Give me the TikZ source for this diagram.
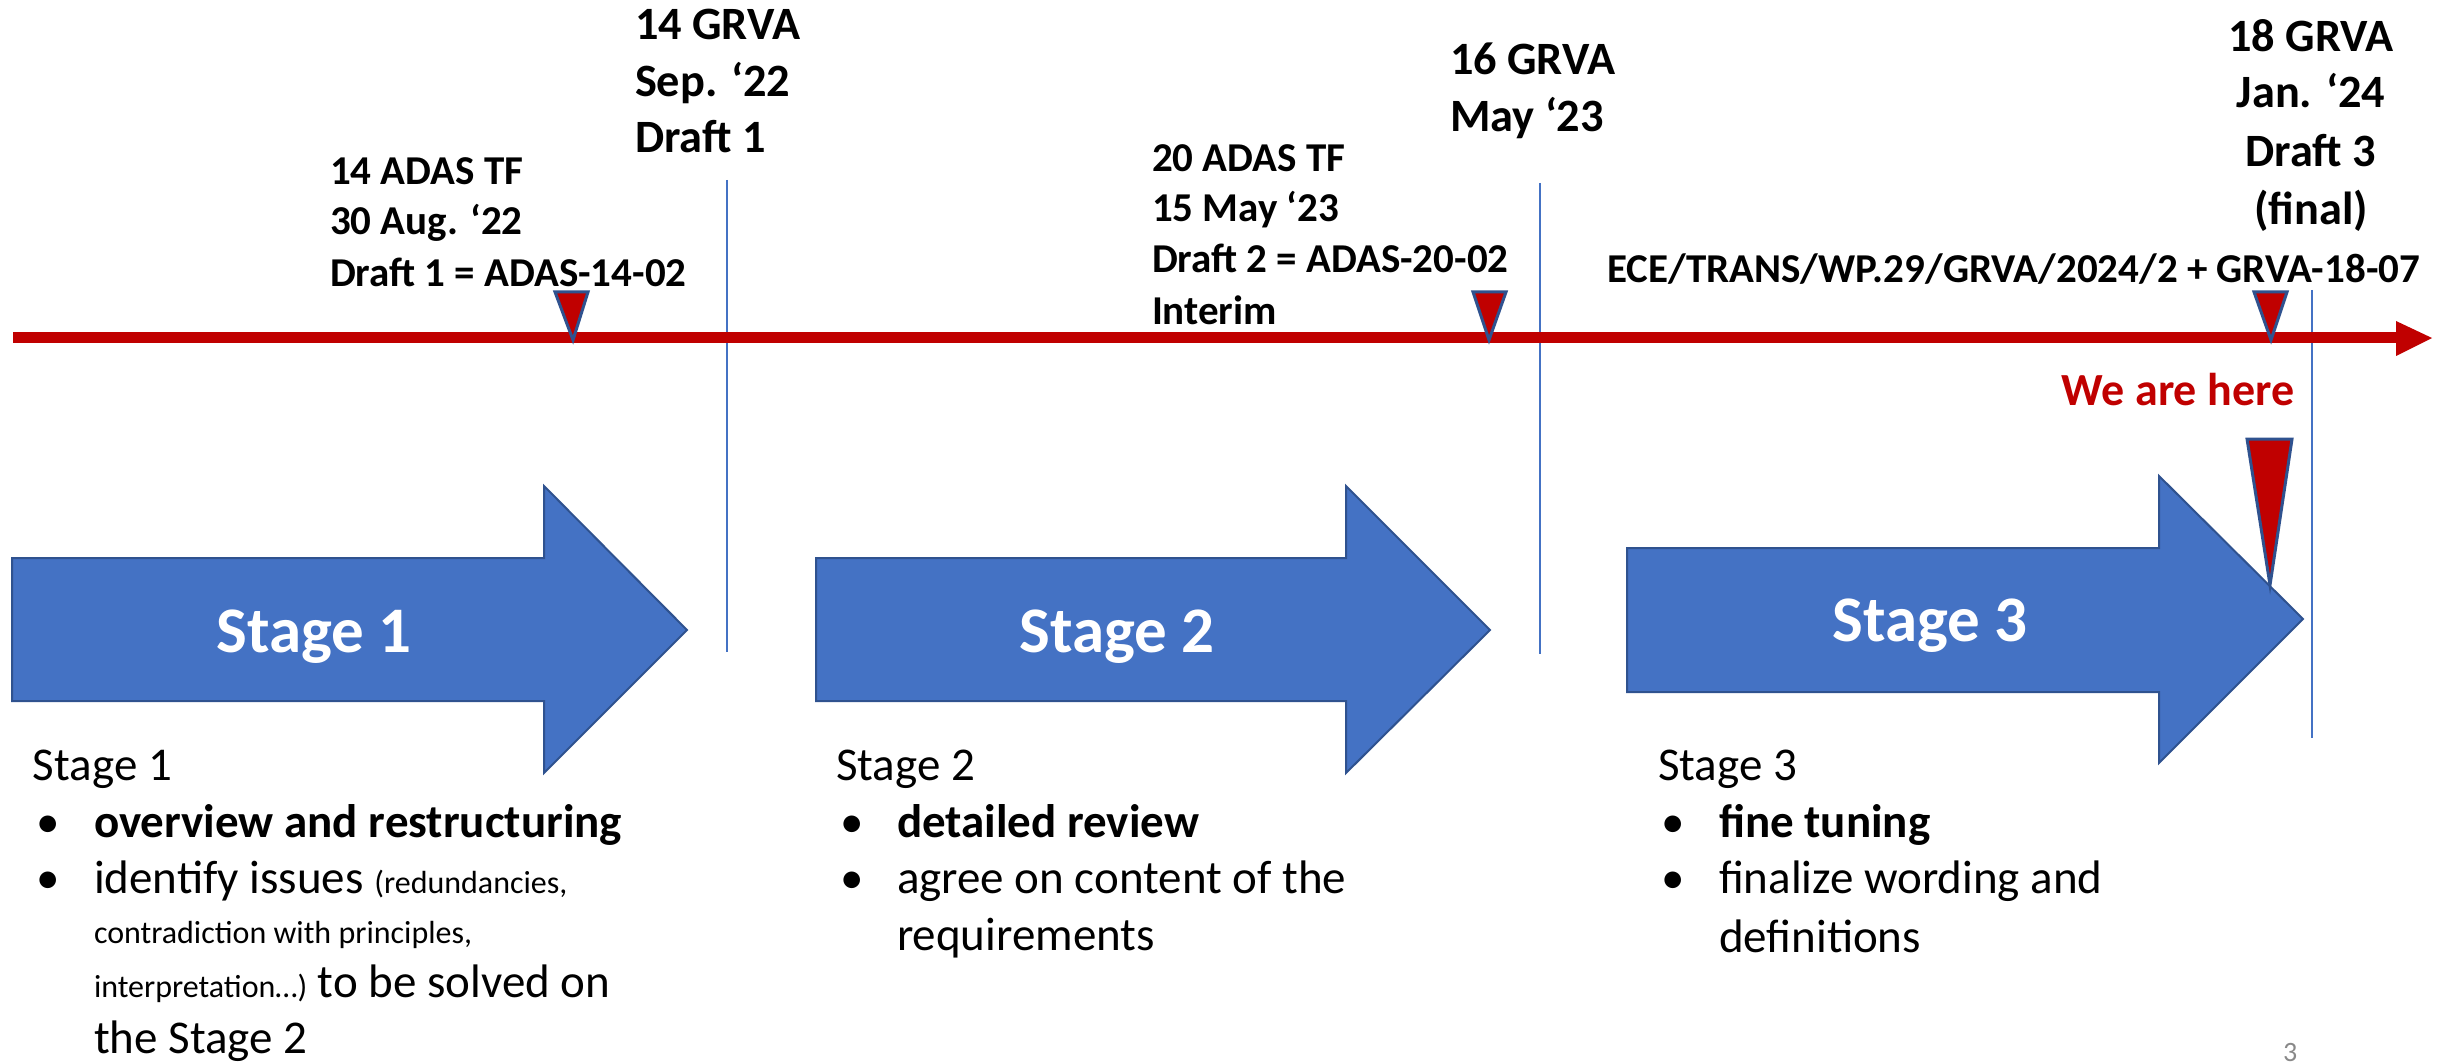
\documentclass[tikz,border=0pt]{standalone}
\usepackage{fontspec}
\setmainfont{Carlito}
\definecolor{tlred}{HTML}{C00000}
\definecolor{stblue}{HTML}{4472C4}
\definecolor{stedge}{HTML}{2F528F}
\definecolor{pagegray}{HTML}{898989}
\tikzset{
  txt/.style={inner sep=0pt, outer sep=0pt, anchor=base west},
  ctxt/.style={inner sep=0pt, outer sep=0pt, anchor=base},
  grva/.style={txt, font=\fontsize{13.9pt}{16pt}\selectfont\bfseries},
  grvac/.style={ctxt, font=\fontsize{13.9pt}{16pt}\selectfont\bfseries},
  adas/.style={txt, font=\fontsize{12.3pt}{14pt}\selectfont\bfseries},
  body/.style={txt, font=\fontsize{14.1pt}{16pt}\selectfont},
  bodyb/.style={txt, font=\fontsize{14.1pt}{16pt}\selectfont\bfseries},
  stagelbl/.style={ctxt, text=white, font=\fontsize{19.5pt}{22pt}\selectfont\bfseries},
  stagearrow/.style={fill=stblue, draw=stedge, line width=0.6pt, line join=miter},
  marker/.style={fill=tlred, draw=stedge, line width=0.9pt, line join=miter},
  sepline/.style={draw=stblue, line width=0.6pt},
}
\newcommand{\smalltxt}{\fontsize{9.6pt}{11pt}\selectfont}
\begin{document}
\begin{tikzpicture}[x=0.3pt, y=-0.3pt]
\useasboundingbox (0,0) rectangle (2440,1063);

% separator lines
\coordinate (v1t) at (727,180);  \coordinate (v1b) at (727,652);
\coordinate (v2t) at (1540,183); \coordinate (v2b) at (1540,654);
\coordinate (v3t) at (2312,290); \coordinate (v3b) at (2312,738);
\draw[sepline] (v1t) -- (v1b);
\draw[sepline] (v2t) -- (v2b);
\draw[sepline] (v3t) -- (v3b);

% timeline
\coordinate (tlstart) at (13,338);
\coordinate (tlhead) at (2396,338);
\coordinate (tltip) at (2432,338);
\draw[tlred, line width=3.3pt] (tlstart) -- (tlhead);
\fill[tlred] (2396,321) -- (tltip) -- (2396,356) -- cycle;

% milestone markers
\draw[marker] (555,292) -- (588,292) -- (573,340) -- cycle;
\draw[marker] (1473,292) -- (1506,292) -- (1489,340) -- cycle;
\draw[marker] (2254,292) -- (2287,292) -- (2271,340) -- cycle;

% stage arrows
\draw[stagearrow] (12,558) -- (544,558) -- (544,486) -- (687,630) -- (544,773) -- (544,701) -- (12,701) -- cycle;
\draw[stagearrow] (816,558) -- (1346,558) -- (1346,486) -- (1490,630) -- (1346,773) -- (1346,701) -- (816,701) -- cycle;
\draw[stagearrow] (1627,548) -- (2159,548) -- (2159,476) -- (2303,619) -- (2159,763) -- (2159,692) -- (1627,692) -- cycle;
\node[stagelbl] (s1lbl) at (314,652) {Stage 1};
\node[stagelbl] (s2lbl) at (1117,652) {Stage 2};
\node[stagelbl] (s3lbl) at (1930,641) {Stage 3};

% we are here marker
\draw[marker] (2247,439) -- (2292,439) -- (2270,585) -- cycle;
\node[inner sep=0pt, anchor=base east, text=tlred, font=\fontsize{13.8pt}{16pt}\selectfont\bfseries] (here) at (2295,405) {We are here};

% top labels
\node[grva] (g14a) at (635,40) {14 GRVA};
\node[grva] (g14b) at (635,97) {Sep. ‘22};
\node[grva] (g14c) at (635,153) {Draft 1};

\node[grva] (g16a) at (1450,75) {16 GRVA};
\node[grva] (g16b) at (1450,132) {May ‘23};

\node[grvac] (g18a) at (2311,52) {18 GRVA};
\node[grvac] (g18b) at (2311,108) {Jan. ‘24};
\node[grvac] (g18c) at (2311,167) {Draft 3};
\node[grvac] (g18d) at (2311,225) {(final)};

\node[adas] (a14a) at (330,185) {14 ADAS TF};
\node[adas] (a14b) at (330,235) {30 Aug. ‘22};
\node[adas] (a14c) at (330,287) {Draft 1 = ADAS-14-02};

\node[adas] (a20a) at (1152,172) {20 ADAS TF};
\node[adas] (a20b) at (1152,222) {15 May ‘23};
\node[adas] (a20c) at (1152,273) {Draft 2 = ADAS-20-02};
\node[adas] (a20d) at (1152,325) {Interim};

\node[adas, anchor=base east] (ece) at (2420,283) {ECE/TRANS/WP.29/GRVA/2024/2 + GRVA-18-07};

% stage 1 description
\node[body] (d1t) at (33,780) {Stage 1};
\node[body] (d1b1) at (36,837) {•};
\node[bodyb] (d1l1) at (94,837) {overview and restructuring};
\node[body] (d1b2) at (36,893) {•};
\node[body] (d1l2) at (94,893) {identify issues {\smalltxt (redundancies,}};
\node[body] (d1l3) at (94,943) {\smalltxt contradiction with principles,};
\node[body] (d1l4) at (94,997) {{\smalltxt interpretation…)} to be solved on};
\node[body] (d1l5) at (94,1053) {the Stage 2};

% stage 2 description
\node[body] (d2t) at (836,780) {Stage 2};
\node[body] (d2b1) at (840,837) {•};
\node[bodyb] (d2l1) at (897,837) {detailed review};
\node[body] (d2b2) at (840,893) {•};
\node[body] (d2l2) at (897,893) {agree on content of the};
\node[body] (d2l3) at (897,950) {requirements};

% stage 3 description
\node[body] (d3t) at (1658,780) {Stage 3};
\node[body] (d3b1) at (1661,837) {•};
\node[bodyb] (d3l1) at (1719,837) {fine tuning};
\node[body] (d3b2) at (1661,893) {•};
\node[body] (d3l2) at (1719,893) {finalize wording and};
\node[body] (d3l3) at (1719,952) {definitions};

% page number
\node[txt, text=pagegray, font=\fontsize{8.4pt}{10pt}\selectfont] (page) at (2283,1061) {3};
\end{tikzpicture}
\end{document}
